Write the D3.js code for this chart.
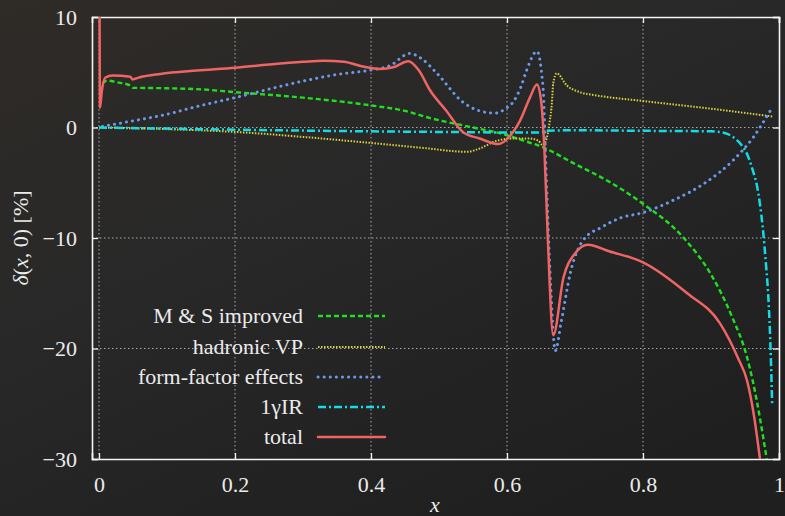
<!DOCTYPE html>
<html>
<head>
<meta charset="utf-8">
<script src="https://cdn.jsdelivr.net/npm/d3@7"></script>
<style>
  body { margin: 0; background: #262626; }
  svg { display: block; }
  svg text { font-family: "Liberation Serif", "DejaVu Serif", "Times New Roman", Times, serif; font-size: 22px; }
</style>
</head>
<body>
<div id="chart"></div>
<script>
// series data: [x, delta in %]
const msImproved = [
  [0.005, 4.0], [0.012, 4.25], [0.026, 4.1], [0.046, 3.8], [0.05, 3.6], [0.1, 3.55],
  [0.15, 3.45], [0.2, 3.2], [0.3, 2.7], [0.4, 2.0], [0.45, 1.5], [0.487, 0.85],
  [0.546, 0.05], [0.6, -0.7], [0.62, -1.1], [0.653, -1.8], [0.7, -3.3], [0.75, -4.9],
  [0.8, -6.9], [0.86, -10.0], [0.9, -13.3], [0.93, -17.0], [0.953, -20.8],
  [0.962, -23.1], [0.982, -30]
]

const hadronicVP = [
  [0, 0], [0.1, -0.15], [0.2, -0.4], [0.3, -0.85], [0.4, -1.4], [0.477, -1.85],
  [0.541, -2.2], [0.56, -1.9], [0.585, -1.2], [0.609, -1.0], [0.634, -1.0],
  [0.646, -1.2], [0.653, -1.6], [0.66, -0.55], [0.663, 0.6], [0.666, 2.2],
  [0.668, 4.0], [0.673, 4.9], [0.688, 3.8], [0.707, 3.2], [0.732, 2.9],
  [0.8, 2.4], [0.9, 1.7], [0.99, 1.0]
]

const formFactor = [
  [0.005, 0.1], [0.05, 0.6], [0.1, 1.2], [0.144, 1.9], [0.2, 2.7], [0.3, 4.2],
  [0.35, 4.8], [0.4, 5.2], [0.428, 5.6], [0.457, 6.7], [0.475, 6.2], [0.497, 4.9],
  [0.535, 2.3], [0.56, 1.5], [0.582, 1.3], [0.6, 1.8], [0.609, 2.3], [0.62, 3.6],
  [0.629, 5.2], [0.644, 6.9], [0.653, 3.6], [0.658, -4.8], [0.664, -14],
  [0.671, -20.2], [0.68, -17.5], [0.693, -13.2], [0.712, -10.2], [0.74, -9.0],
  [0.766, -8.2], [0.8, -7.7], [0.844, -6.6], [0.894, -4.9], [0.932, -3.0],
  [0.962, -0.9], [0.987, 1.5]
]

const oneGammaIR = [
  [0, 0], [0.1, -0.1], [0.2, -0.2], [0.3, -0.28], [0.4, -0.35], [0.5, -0.4],
  [0.6, -0.45], [0.65, -0.45], [0.66, -0.3], [0.7, -0.25], [0.8, -0.3],
  [0.9, -0.35], [0.92, -0.5], [0.932, -0.85], [0.945, -1.6], [0.953, -2.4],
  [0.961, -3.8], [0.968, -5.4], [0.976, -9.0], [0.981, -12.5], [0.984, -15],
  [0.988, -20.8], [0.99, -25.2]
]

const total = [
  [0.0008, 12], [0.0015, 1.8], [0.004, 3.2], [0.009, 4.5], [0.02, 4.7],
  [0.046, 4.6], [0.049, 4.35], [0.06, 4.55], [0.09, 4.85], [0.144, 5.15],
  [0.2, 5.4], [0.25, 5.7], [0.3, 5.95], [0.33, 6.05], [0.36, 5.95], [0.39, 5.5],
  [0.413, 5.3], [0.433, 5.45], [0.455, 6.0], [0.47, 5.2], [0.487, 3.35],
  [0.511, 1.5], [0.535, -0.4], [0.56, -1.0], [0.587, -1.5], [0.609, -0.4],
  [0.619, 0.6], [0.634, 2.75], [0.644, 3.9], [0.65, 2.5], [0.655, -2],
  [0.66, -10], [0.668, -18.8], [0.683, -13.6], [0.70, -11.4], [0.719, -10.6],
  [0.75, -11.2], [0.8, -12.2], [0.865, -15], [0.913, -17.7], [0.94, -20.9],
  [0.953, -22.9], [0.963, -26], [0.972, -30]
]

const seriesNames = ["M & S improved", "hadronic VP", "form-factor effects", "1γIR", "total"]
const seriesData = [msImproved, hadronicVP, formFactor, oneGammaIR, total]

const xTicks = [0, 0.2, 0.4, 0.6, 0.8, 1]
const yTicks = [10, 0, -10, -20, -30]
const xGrid = [0, 0.2, 0.4, 0.6, 0.8]
const yGrid = [0, -10, -20]

// styles per series
const styles = [
  { color: "#1fe01f", width: 2.4, dash: "5,3", cap: "butt" },
  { color: "#d6d43c", width: 2, dash: "1.5,1.5", cap: "butt" },
  { color: "#6c98e8", width: 3, dash: "0.1,6", cap: "round" },
  { color: "#10dde6", width: 2.5, dash: "8,3,2,3", cap: "butt" },
  { color: "#f06464", width: 2.5, dash: null, cap: "round" }
]

// dimensions
let dims = {
  width: 785,
  height: 516,
  margin: { top: 17, right: 6, bottom: 57, left: 92 },
}
dims.boundedWidth = dims.width - dims.margin.left - dims.margin.right
dims.boundedHeight = dims.height - dims.margin.top - dims.margin.bottom

const textColor = "#ebebeb"

const svg = d3.select("#chart")
  .append("svg")
  .attr("width", dims.width)
  .attr("height", dims.height)

// background
const defs = svg.append("defs")
const grad = defs.append("linearGradient")
  .attr("id", "bg")
  .attr("x1", 0).attr("y1", 0).attr("x2", 0.7).attr("y2", 1)
grad.append("stop").attr("offset", "0%").attr("stop-color", "#2f2b27")
grad.append("stop").attr("offset", "45%").attr("stop-color", "#282828")
grad.append("stop").attr("offset", "100%").attr("stop-color", "#1f1f1f")

svg.append("rect")
  .attr("width", dims.width)
  .attr("height", dims.height)
  .attr("fill", "url(#bg)")

defs.append("clipPath").attr("id", "clip")
  .append("rect")
  .attr("width", dims.boundedWidth)
  .attr("height", dims.boundedHeight)

const bounds = svg.append("g")
  .attr("transform", `translate(${dims.margin.left},${dims.margin.top})`)

// scales
const xScale = d3.scaleLinear()
  .domain([-0.0103, 1])
  .range([0, dims.boundedWidth])

const yScale = d3.scaleLinear()
  .domain([-30, 10])
  .range([dims.boundedHeight, 0])

// grid
const grid = bounds.append("g")
  .attr("stroke", "#a8a8a8")
  .attr("stroke-width", 1)
  .attr("stroke-dasharray", "1.5,2.5")

grid.selectAll(".vgrid").data(xGrid).join("line")
  .attr("class", "vgrid")
  .attr("x1", d => xScale(d)).attr("x2", d => xScale(d))
  .attr("y1", 0).attr("y2", dims.boundedHeight)

grid.selectAll(".hgrid").data(yGrid).join("line")
  .attr("class", "hgrid")
  .attr("x1", 0).attr("x2", dims.boundedWidth)
  .attr("y1", d => yScale(d)).attr("y2", d => yScale(d))

// axes
const fmt = d => d === 0 ? "0" : d3.format("~g")(d)

const xAxis = bounds.append("g")
  .attr("transform", `translate(0,${dims.boundedHeight})`)
  .call(d3.axisBottom(xScale).tickValues(xTicks).tickFormat(fmt).tickSize(-6).tickPadding(17))

const yAxis = bounds.append("g")
  .call(d3.axisLeft(yScale).tickValues(yTicks).tickFormat(fmt).tickSize(-6).tickPadding(15))

const xAxisTop = bounds.append("g")
  .call(d3.axisTop(xScale).tickValues(xTicks).tickFormat("").tickSize(-6))

const yAxisRight = bounds.append("g")
  .attr("transform", `translate(${dims.boundedWidth},0)`)
  .call(d3.axisRight(yScale).tickValues(yTicks).tickFormat("").tickSize(-6))

;[xAxis, yAxis, xAxisTop, yAxisRight].forEach(a => {
  a.attr("font-family", null).attr("font-size", null)
  a.select(".domain").attr("stroke", "#f4f4f4").attr("stroke-width", 1.6)
  a.selectAll(".tick line").attr("stroke", "#f4f4f4").attr("stroke-width", 1.3)
  a.selectAll(".tick text").attr("fill", textColor)
})

// lines
const lineGen = d3.line()
  .x(d => xScale(d[0]))
  .y(d => yScale(d[1]))
  .curve(d3.curveMonotoneX)

const plot = bounds.append("g").attr("clip-path", "url(#clip)")

plot.selectAll(".series").data(seriesData).join("path")
  .attr("class", "series")
  .attr("d", lineGen)
  .attr("fill", "none")
  .attr("stroke", (d, i) => styles[i].color)
  .attr("stroke-width", (d, i) => styles[i].width)
  .attr("stroke-dasharray", (d, i) => styles[i].dash)
  .attr("stroke-linecap", (d, i) => styles[i].cap)
  .attr("stroke-linejoin", "round")

// legend
const legendRows = [316, 347, 377, 407, 437]
const legend = svg.append("g")

legend.selectAll("text").data(seriesNames).join("text")
  .attr("x", 303)
  .attr("y", (d, i) => legendRows[i] + 7)
  .attr("text-anchor", "end")
  .attr("fill", textColor)
  .text(d => d)

legend.selectAll("line").data(seriesNames).join("line")
  .attr("x1", 318).attr("x2", 385)
  .attr("y1", (d, i) => legendRows[i]).attr("y2", (d, i) => legendRows[i])
  .attr("stroke", (d, i) => styles[i].color)
  .attr("stroke-width", (d, i) => styles[i].width)
  .attr("stroke-dasharray", (d, i) => styles[i].dash)
  .attr("stroke-linecap", (d, i) => styles[i].cap)

// axis labels
const yLabel = svg.append("text")
  .attr("transform", "translate(28,238) rotate(-90)")
  .attr("text-anchor", "middle")
  .attr("fill", textColor)
yLabel.append("tspan").style("font-style", "italic").text("δ")
yLabel.append("tspan").text("(")
yLabel.append("tspan").style("font-style", "italic").text("x")
yLabel.append("tspan").text(", 0) [%]")

svg.append("text")
  .attr("x", 435)
  .attr("y", 512)
  .attr("text-anchor", "middle")
  .attr("fill", textColor)
  .style("font-style", "italic")
  .text("x")
</script>
</body>
</html>
